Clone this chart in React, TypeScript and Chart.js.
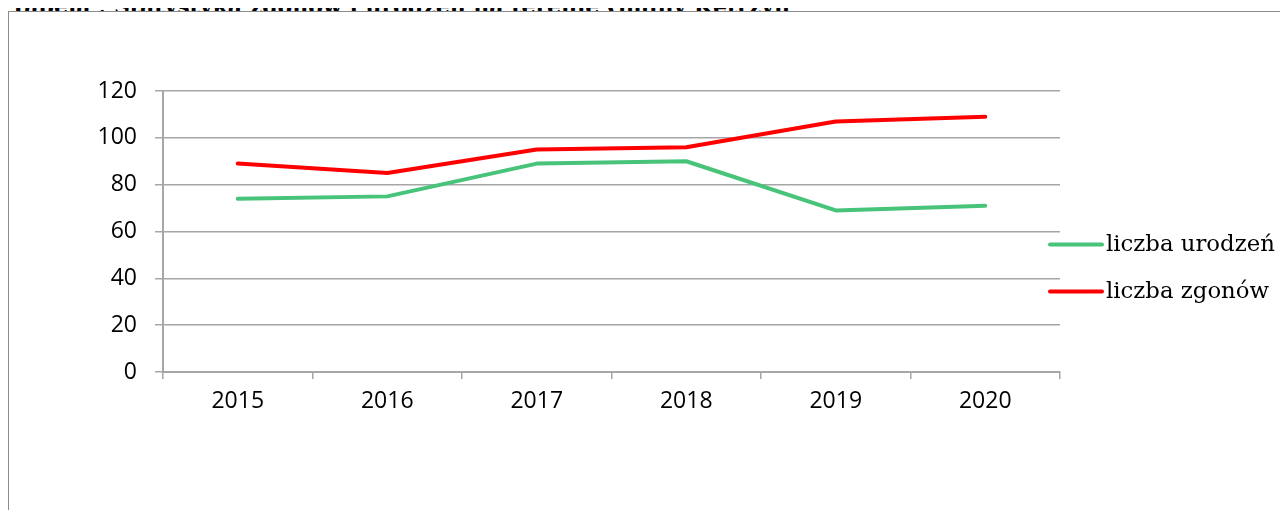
import React, { useEffect, useRef } from "react";
import { Chart, registerables } from "chart.js";

Chart.register(...registerables);

const TITLE = "Tabela : Statystyka zgonów i urodzeń na terenie Gminy Kętrzyn";
const years = ["2015", "2016", "2017", "2018", "2019", "2020"];
const births = [74, 75, 89, 90, 69, 71];
const deaths = [89, 85, 95, 96, 107, 109];
const seriesLabels = ["liczba urodzeń", "liczba zgonów"];
const seriesColors = ["#47c37a", "#ff0000"];
const yMin = 0;
const yMax = 120;
const yStep = 20;

const TICK_FONT = { family: '"Open Sans", "Noto Sans", sans-serif', size: 23 };
const LEGEND_FONT = '22.8px "DejaVu Serif", serif';

const sideLegend = {
  id: "sideLegend",
  afterDraw(chart: any) {
    const ctx = chart.ctx;
    const area = chart.chartArea;
    const x0 = area.right - 10;
    const n = chart.data.datasets.length;
    const gap = 47;
    const cy = chart.height / 2 + 3;
    chart.data.datasets.forEach((ds: any, i: number) => {
      const y = cy + (i - (n - 1) / 2) * gap;
      ctx.save();
      ctx.strokeStyle = ds.borderColor;
      ctx.lineWidth = 4;
      ctx.lineCap = "round";
      ctx.beginPath();
      ctx.moveTo(x0, y);
      ctx.lineTo(x0 + 52, y);
      ctx.stroke();
      ctx.fillStyle = "#000";
      ctx.font = LEGEND_FONT;
      ctx.textBaseline = "middle";
      ctx.textAlign = "left";
      ctx.fillText(ds.label, x0 + 56, y + 1);
      ctx.restore();
    });
  },
};

export default function App() {
  const ref = useRef<HTMLCanvasElement | null>(null);

  useEffect(() => {
    document.documentElement.style.overflow = "hidden";
    if (!ref.current) return;
    const chart = new Chart(ref.current, {
      type: "line",
      data: {
        labels: years,
        datasets: [
          {
            label: seriesLabels[0],
            data: births,
            borderColor: seriesColors[0],
            backgroundColor: seriesColors[0],
            borderWidth: 4,
            pointRadius: 0,
            tension: 0,
            borderCapStyle: "round",
            borderJoinStyle: "round",
          },
          {
            label: seriesLabels[1],
            data: deaths,
            borderColor: seriesColors[1],
            backgroundColor: seriesColors[1],
            borderWidth: 4,
            pointRadius: 0,
            tension: 0,
            borderCapStyle: "round",
            borderJoinStyle: "round",
          },
        ],
      },
      options: {
        responsive: false,
        animation: false,
        layout: { padding: { top: 79, right: 228, bottom: 0, left: 0 } },
        plugins: {
          legend: { display: false },
          title: { display: false },
          tooltip: { enabled: false },
        },
        scales: {
          x: {
            type: "category",
            offset: true,
            grid: {
              offset: true,
              drawOnChartArea: false,
              drawTicks: true,
              tickLength: 7,
              color: "#a6a6a6",
              lineWidth: 1.5,
            },
            border: { color: "#a6a6a6", width: 2 },
            ticks: { color: "#000", font: TICK_FONT, padding: 9, maxRotation: 0, autoSkip: false },
            afterFit: (s: any) => {
              s.height = 146;
            },
          },
          y: {
            min: yMin,
            max: yMax,
            ticks: { stepSize: yStep, color: "#000", font: TICK_FONT, padding: 18 },
            grid: { color: "#a6a6a6", lineWidth: 1.5, tickLength: 8 },
            border: { color: "#a6a6a6", width: 2 },
            afterFit: (s: any) => {
              s.width = 154;
            },
          },
        },
      },
      plugins: [sideLegend],
    });
    return () => chart.destroy();
  }, []);

  return (
    <div style={{ position: "relative", width: 1272, height: 502 }}>
      <div
        style={{
          position: "absolute",
          left: 2,
          top: -12,
          font: 'bold 22px "DejaVu Serif", serif',
          lineHeight: "21px",
          whiteSpace: "nowrap",
          color: "#000",
        }}
      >
        {TITLE}
      </div>
      <div
        style={{
          position: "absolute",
          left: 0,
          top: 3,
          width: 1280,
          height: 507,
          boxSizing: "border-box",
          borderTop: "1px solid #8c8c8c",
          borderLeft: "1px solid #8c8c8c",
          background: "#fff",
        }}
      >
        <canvas ref={ref} width={1279} height={506} style={{ display: "block", width: 1279, height: 506 }} />
      </div>
    </div>
  );
}
